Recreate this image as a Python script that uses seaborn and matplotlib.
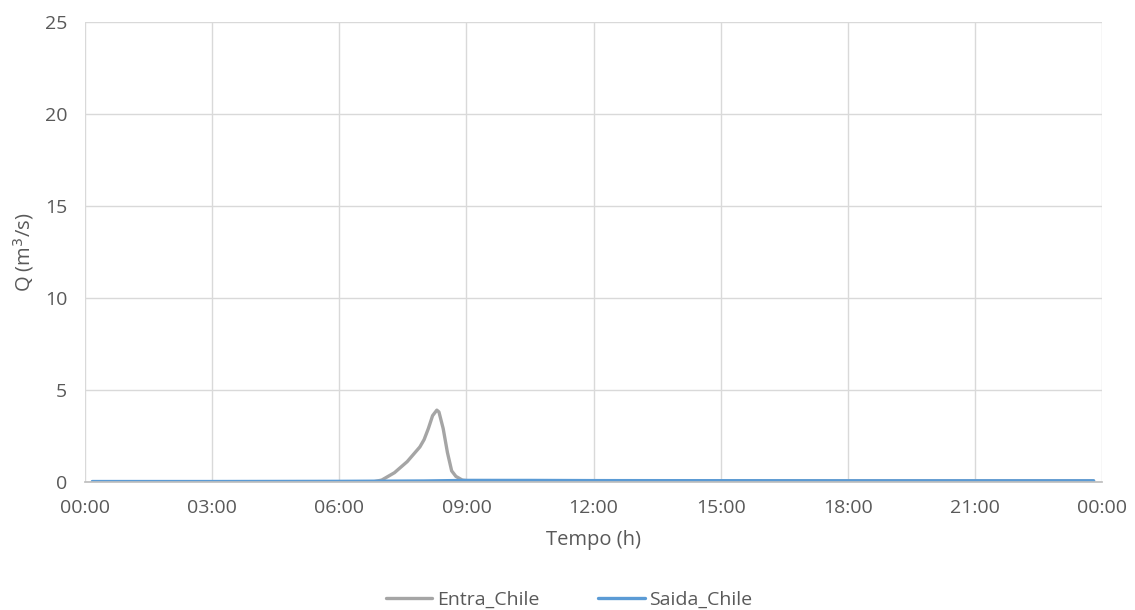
import pandas as pd
import matplotlib.pyplot as plt
import seaborn as sns
from matplotlib.ticker import FuncFormatter

# --- data (hours, m3/s) ---
entra_t = [0.17, 6.0, 6.8, 7.0, 7.3, 7.6, 7.9, 8.0, 8.1, 8.2, 8.3, 8.35, 8.45, 8.55, 8.65, 8.75, 8.9, 9.0, 12.0, 18.0, 23.8]
entra_q = [0.0, 0.0, 0.0, 0.1, 0.5, 1.1, 1.9, 2.3, 2.9, 3.6, 3.9, 3.8, 2.9, 1.6, 0.6, 0.3, 0.1, 0.07, 0.06, 0.05, 0.05]
saida_t = [0.17, 3.0, 6.0, 8.0, 9.0, 10.5, 12.0, 18.0, 23.8]
saida_q = [0.02, 0.02, 0.03, 0.05, 0.08, 0.08, 0.07, 0.06, 0.06]
tick_hours = [0, 3, 6, 9, 12, 15, 18, 21, 24]

df = pd.concat([
    pd.DataFrame({'t': entra_t, 'Q': entra_q, 'serie': 'Entra_Chile'}),
    pd.DataFrame({'t': saida_t, 'Q': saida_q, 'serie': 'Saida_Chile'}),
])

sns.set_theme(style='white')
plt.rcParams['font.family'] = ['Open Sans', 'DejaVu Sans']
text_col = '#595959'

fig = plt.figure(figsize=(11.35, 6.1), dpi=100)
ax = fig.add_axes([0.075, 0.21, 0.896, 0.754])

sns.lineplot(data=df, x='t', y='Q', hue='serie',
             palette={'Entra_Chile': '#a5a5a5', 'Saida_Chile': '#5b9bd5'},
             linewidth=2.4, ax=ax, sort=True)

ax.set_xlim(0, 24)
ax.set_ylim(0, 25)
ax.set_xticks(tick_hours)
ax.xaxis.set_major_formatter(FuncFormatter(lambda v, p: '%02d:00' % (int(v) % 24)))
ax.set_yticks([0, 5, 10, 15, 20, 25])
ax.grid(True, color='#d9d9d9', linewidth=1)
ax.set_axisbelow(True)
for s in ['top', 'right', 'left']:
    ax.spines[s].set_visible(False)
ax.spines['bottom'].set_color('#bfbfbf')
ax.tick_params(axis='both', length=0, labelsize=14, colors=text_col)
ax.tick_params(axis='x', pad=12)
ax.tick_params(axis='y', pad=13)

ax.set_xlabel('Tempo (h)', fontsize=14.5, color=text_col, labelpad=10)
ax.set_ylabel('Q (m$^3$/s)', fontsize=14.5, color=text_col, labelpad=6)

ax.legend(loc='center', bbox_to_anchor=(0.476, -0.256), ncol=2, frameon=False,
          fontsize=14, labelcolor=text_col, handlelength=2.4, handletextpad=0.25,
          columnspacing=3.0, title=None, borderpad=0)

plt.savefig('out.png', dpi=100)
